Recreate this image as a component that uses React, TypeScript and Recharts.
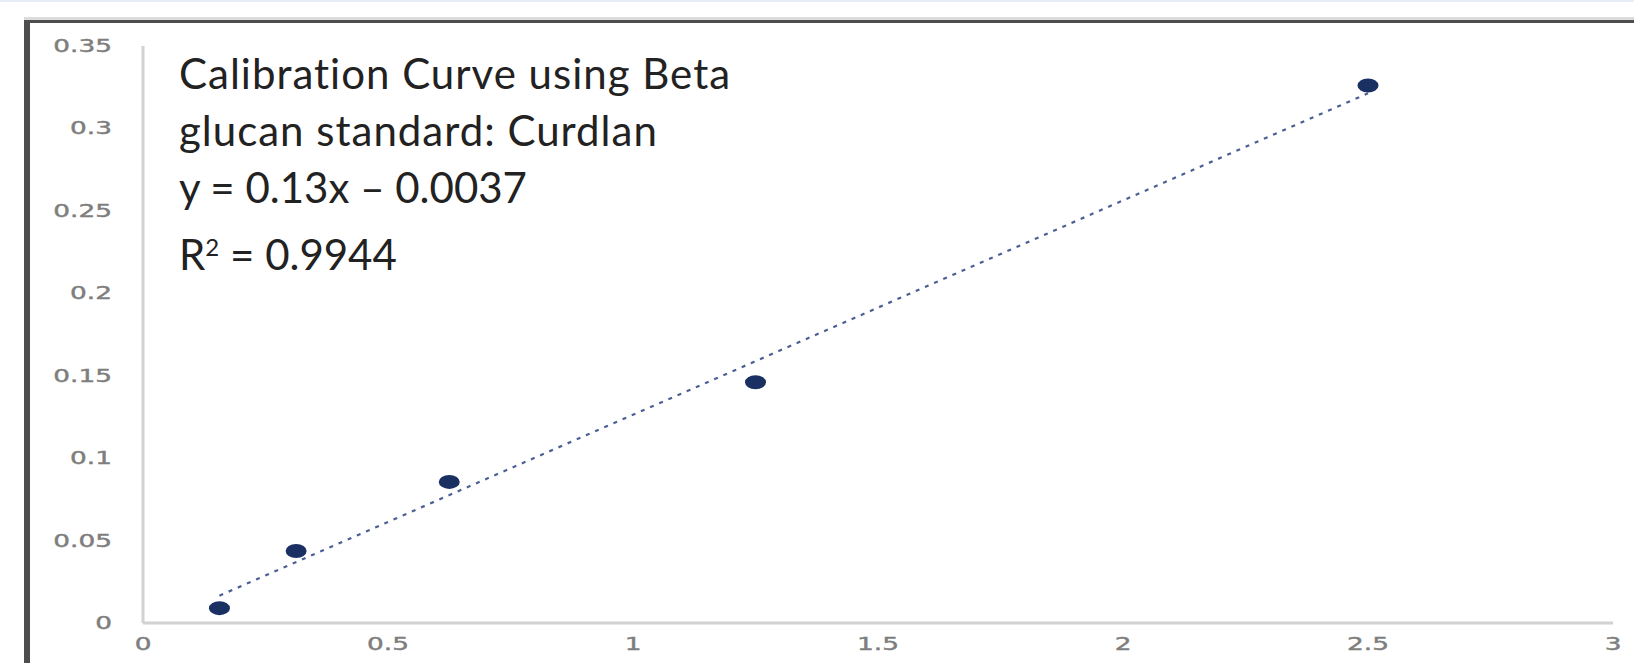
import React from "react";
import { ScatterChart, Scatter, XAxis, YAxis } from "recharts";

// curdlan standard (mg/ml) vs absorbance
const concentrations = [0.156, 0.3125, 0.625, 1.25, 2.5];
const absorbances = [0.009, 0.0437, 0.0856, 0.146, 0.326];

// linear trendline end points (y = 0.13x - 0.0037)
const trendX = [0.156, 2.5];
const trendY = [0.0166, 0.3213];

const xTicks = [0, 0.5, 1, 1.5, 2, 2.5, 3];
const yTicks = [0, 0.05, 0.1, 0.15, 0.2, 0.25, 0.3, 0.35];

const titleLines = ["Calibration Curve using Beta", "glucan standard: Curdlan", "y = 0.13x – 0.0037"];
const r2Value = "0.9944";

const points = concentrations.map((x, i) => ({ x, y: absorbances[i] }));
const trendData = trendX.map((x, i) => ({ x, y: trendY[i] }));

const POINT = "#1b3062";
const TREND = "#4b5f95";
const AXIS = "#d2d2d2";
const LABEL = "#7e7e7e";
const FRAME = "#4e4e4e";

function TickLabel(props: any) {
  const { x, y, payload, anchor, dx, dy } = props;
  return (
    <g transform={`translate(${x + dx},${y + dy})`}>
      <text
        transform="scale(1.55,1)"
        textAnchor={anchor}
        fill={LABEL}
        fontSize={17}
        fontFamily="DejaVu Sans"
        stroke={LABEL}
        strokeWidth={0.4}
      >
        {payload.value}
      </text>
    </g>
  );
}

function Dot(props: any) {
  const { cx, cy } = props;
  return <ellipse cx={cx} cy={cy} rx={10.5} ry={7} fill={POINT} />;
}

export default function App() {
  return (
    <div style={{ position: "absolute", left: 0, top: 0, width: 1634, height: 663, background: "#fff", overflow: "hidden" }}>
      <style>{`body{margin:0}`}</style>
      {/* frame */}
      <div style={{ position: "absolute", left: 0, top: 0, width: 1634, height: 2, background: "#e7edf6" }} />
      <div style={{ position: "absolute", left: 24, top: 17, width: 1610, height: 3, background: "#dcdcdc" }} />
      <div style={{ position: "absolute", left: 24, top: 20, width: 1610, height: 3, background: FRAME }} />
      <div style={{ position: "absolute", left: 24, top: 20, width: 6, height: 643, background: FRAME }} />

      <ScatterChart width={1634} height={663} margin={{ top: 46, right: 21, bottom: 0, left: 0 }}>
        <XAxis
          type="number"
          dataKey="x"
          domain={[0, 3]}
          ticks={xTicks}
          height={40}
          tickLine={false}
          axisLine={{ stroke: AXIS, strokeWidth: 3 }}
          tick={(p: any) => <TickLabel {...p} anchor="middle" dx={0} dy={19} />}
        />
        <YAxis
          type="number"
          dataKey="y"
          domain={[0, 0.35]}
          ticks={yTicks}
          width={143}
          tickLine={false}
          axisLine={{ stroke: AXIS, strokeWidth: 3 }}
          tick={(p: any) => <TickLabel {...p} anchor="end" dx={-23} dy={6} />}
        />
        <Scatter
          data={trendData}
          line={{ stroke: TREND, strokeWidth: 2.2, strokeDasharray: "4 6" }}
          shape={() => <g />}
          isAnimationActive={false}
        />
        <Scatter data={points} shape={(p: any) => <Dot {...p} />} isAnimationActive={false} />
      </ScatterChart>

      <div style={{ position: "absolute", left: 179, top: 0, fontFamily: "Lato", fontSize: 42, color: "#222", whiteSpace: "nowrap" }}>
        {titleLines.map((t, i) => (
          <div
            key={i}
            style={{ position: "absolute", left: 0, top: 48 + i * 57, lineHeight: "50px", letterSpacing: i < 2 ? 1 : 0 }}
          >
            {t}
          </div>
        ))}
        <div style={{ position: "absolute", left: 0, top: 48 + 3 * 58, lineHeight: "50px" }}>
          R<span style={{ fontSize: 24, verticalAlign: 14 }}>2</span> = {r2Value}
        </div>
      </div>
    </div>
  );
}
